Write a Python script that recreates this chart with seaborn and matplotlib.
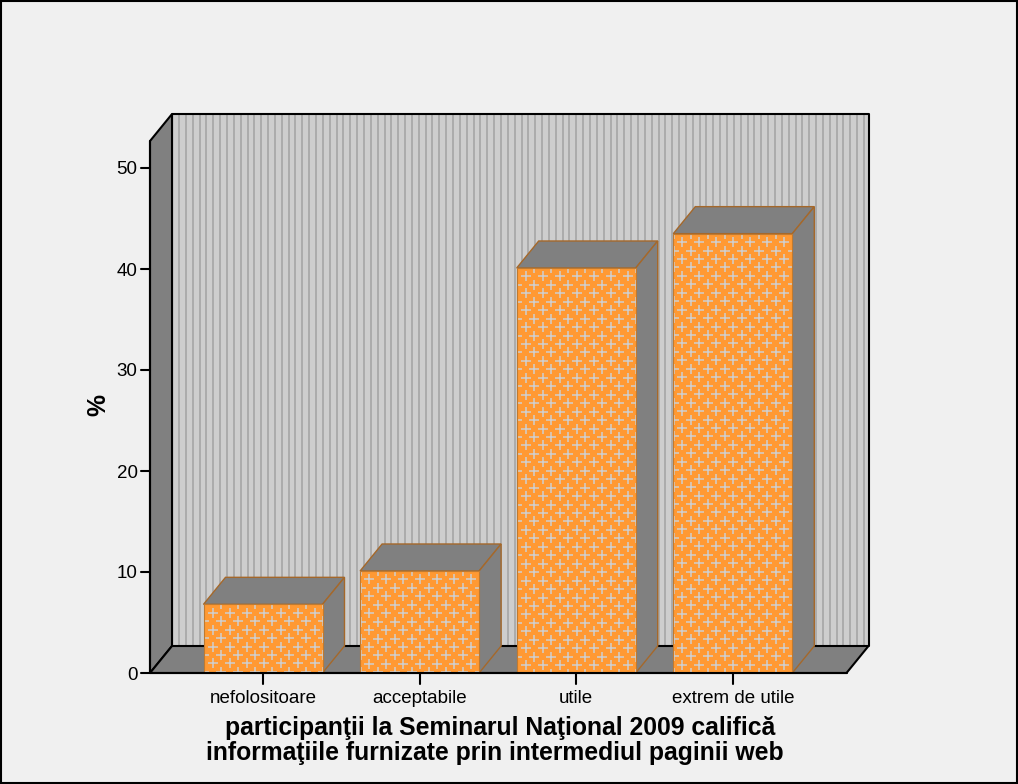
import matplotlib
matplotlib.use("Agg")
import matplotlib.pyplot as plt
import seaborn as sns
import numpy as np
import pandas as pd

categories = ["nefolositoare", "acceptabile", "utile", "extrem de utile"]
values = [6.8, 10.1, 40.1, 43.5]
y_ticks = [0, 10, 20, 30, 40, 50]
xlabel_lines = ["participanţii la Seminarul Naţional 2009 califică",
                "informaţiile furnizate prin intermediul paginii web"]

W, H = 1018, 784
BG = "#f0f0f0"; GREY = "#808080"; WALL = "#cecece"; STRIPE = "#a6a6a6"
ORANGE = "#ff9933"; EDGE = "#a5682a"; PLUS = "#cfcfcf"

sns.set_theme(style="white")
plt.rcParams["font.family"] = ["Liberation Sans", "DejaVu Sans"]

fig = plt.figure(figsize=(W / 100, H / 100), dpi=100, facecolor=BG)
# pixel geometry of the plot box
L, R, B, T = 150, 870, 673, 113
ax = fig.add_axes([L / W, 1 - B / H, (R - L) / W, (B - T) / H])
ax.patch.set_alpha(0)
PX_CAT = 156.6
PX_UNIT = 10.1
X0 = 263
xlim = ((L - X0) / PX_CAT, (R - X0) / PX_CAT)
ylim = (0, (B - T) / PX_UNIT)
DX, DY = 22 / PX_CAT, 27 / PX_UNIT          # 3-D depth in data units
pxx = lambda p: (p - X0) / PX_CAT
xmin, xfront = pxx(L), pxx(846.5)
ytop = 52.67

df = pd.DataFrame({"cat": categories, "val": values})
sns.barplot(data=df, x="cat", y="val", color=ORANGE, saturation=1, width=119 / PX_CAT,
            edgecolor="none", linewidth=0, ax=ax, zorder=6)
ax.set_xlim(*xlim); ax.set_ylim(*ylim)

# back wall with stripes
ax.fill([xmin + DX, xfront + DX, xfront + DX, xmin + DX], [DY, DY, ytop + DY, ytop + DY],
        fc=WALL, ec="none", zorder=1, clip_on=False)
ax.vlines(np.arange(xmin + DX + 7 / PX_CAT, xfront + DX, 6.85 / PX_CAT), DY, ytop + DY,
          color=STRIPE, lw=1.2, zorder=1.5)
ax.plot([xmin + DX, xmin + DX, xfront + DX, xfront + DX], [DY, ytop + DY, ytop + DY, DY],
        color="black", lw=1.5, zorder=2, clip_on=False)
# left wall and floor
ax.fill([xmin, xmin + DX, xmin + DX, xmin], [0, DY, ytop + DY, ytop], fc=GREY, ec="black", lw=1.5, zorder=2, clip_on=False)
ax.fill([xmin, xfront, xfront + DX, xmin + DX], [0, 0, DY, DY], fc=GREY, ec="black", lw=1.5, zorder=2, clip_on=False)

# 3-D sides and plus pattern for every bar
for bar in list(ax.containers[0]):
    x0, w, h = bar.get_x(), bar.get_width(), bar.get_height()
    x1 = x0 + w
    ax.fill([x0, x1, x1 + DX, x0 + DX], [h, h, h + DY, h + DY], fc=GREY, ec=EDGE, lw=1.0, zorder=5)
    ax.fill([x1, x1 + DX, x1 + DX, x1], [0, DY, h + DY, h], fc=GREY, ec=EDGE, lw=1.0, zorder=5)
    # staggered plus glyphs, anchored to the top-left of the bar
    sx, sy = 17 / PX_CAT, 8.45 / PX_UNIT
    ys = np.arange(h, -sy, -sy)
    px, py = [], []
    for i, yy in enumerate(ys):
        start = x0 + (9 if i % 2 == 1 else 0.5) / PX_CAT
        for xx in np.arange(start, x1 + sx, sx):
            px.append(xx); py.append(yy)
    sc = ax.scatter(px, py, marker="+", s=60, c=PLUS, linewidths=1.1, zorder=7)
    sc.set_clip_path(bar)
    ax.plot([x0, x0, x1, x1], [0, h, h, 0], color="#c07a30", lw=0.8, zorder=8)

for s in ax.spines.values():
    s.set_visible(False)
ax.set_yticks(y_ticks)
ax.set_xticks(range(len(categories)))
ax.set_xticklabels(categories)
ax.tick_params(axis="both", length=0, labelsize=13.5, labelcolor="black")
ax.tick_params(axis="x", pad=12.5)
ax.tick_params(axis="y", pad=9)
# tick marks
for t in y_ticks:
    ax.plot([pxx(L - 9), xmin], [t, t], color="black", lw=1.5, clip_on=False, zorder=3)
for i in range(len(categories)):
    ax.plot([i, i], [0, -1.1], color="black", lw=1.5, clip_on=False, zorder=3)
ax.plot([xmin, xmin], [0, ytop], color="black", lw=1.5, clip_on=False, zorder=3)
ax.plot([xmin, xfront], [0, 0], color="black", lw=1.5, clip_on=False, zorder=8)

ax.set_xlabel("")
ax.set_ylabel("")
fig.text(500 / W, 1 - 728 / H, xlabel_lines[0], ha="center", va="center", fontsize=17.8,
         fontweight="bold", color="black")
fig.text(495 / W, 1 - 753 / H, xlabel_lines[1], ha="center", va="center", fontsize=17.8,
         fontweight="bold", color="black")
fig.text(98 / W, 1 - 405 / H, "%", ha="center", va="center", rotation=90, fontsize=17.8,
         fontweight="bold", color="black")
# outer frame
fig.add_artist(plt.Rectangle((1.0 / W, 1.0 / H), (W - 2) / W, (H - 2) / H, transform=fig.transFigure,
                             fill=False, ec="black", lw=1.5))
fig.savefig("out.png", dpi=100, facecolor=BG)
